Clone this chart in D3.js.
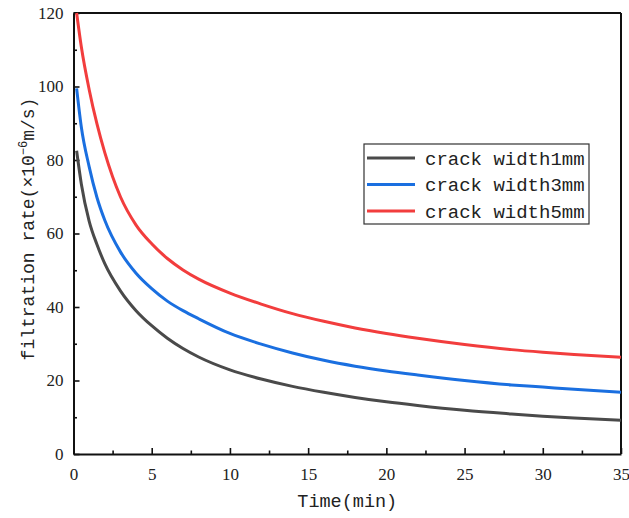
<!DOCTYPE html>
<html>
<head>
<meta charset="utf-8">
<script src="https://cdn.jsdelivr.net/npm/d3@7"></script>
<style>
  body { margin: 0; background: #fff; }
  text { fill: #222; }
</style>
</head>
<body>
<div id="my_dataviz"></div>
<script>
// time points (min)
let times = [0.2, 0.5, 1, 1.5, 2, 3, 4, 5, 6, 7, 8, 10, 12, 14, 16, 18, 20, 22, 25, 28, 30, 32, 35];
// filtration rate (x10^-6 m/s) for each crack width
let width1mm = [82.5, 73.5, 63.4, 57, 51.8, 44.4, 39.0, 34.9, 31.5, 28.7, 26.4, 22.9, 20.4, 18.4, 16.8, 15.4, 14.2, 13.2, 11.9, 10.9, 10.3, 9.8, 9.2];
let width3mm = [99.5, 89, 78.2, 69.8, 63.6, 55, 49.2, 45, 41.6, 39, 36.8, 32.8, 29.9, 27.5, 25.5, 23.9, 22.6, 21.5, 20, 18.8, 18.2, 17.6, 16.8];
let width5mm = [120, 110.8, 99.2, 89.8, 82, 70, 62.3, 57.2, 53.2, 50.1, 47.6, 43.8, 40.8, 38.2, 36.1, 34.3, 32.8, 31.5, 29.8, 28.4, 27.7, 27.1, 26.3];
let seriesNames = ["crack width1mm", "crack width3mm", "crack width5mm"];
let seriesColors = ["#4a4a4a", "#1a6fe0", "#f23d3d"];
let xTicks = [0, 5, 10, 15, 20, 25, 30, 35];
let yTicks = [0, 20, 40, 60, 80, 100, 120];

let margin = {top: 13, right: 8, bottom: 64, left: 73.5},
    width = 629 - margin.left - margin.right,
    height = 518 - margin.top - margin.bottom;

let svg = d3.select("#my_dataviz")
    .append("svg")
    .attr("width", 629)
    .attr("height", 518)
    .append("g")
    .attr("transform", "translate(" + margin.left + "," + margin.top + ")");

let x = d3.scaleLinear().domain([0, 35]).range([0, width]);
let y = d3.scaleLinear().domain([0, 120]).range([height, 0]);

let tickFont = "'Liberation Serif', serif";
let labelFont = "'Liberation Mono', monospace";

// minor ticks
let xMinor = d3.range(2.5, 35, 5);
let yMinor = d3.range(10, 120, 20);

svg.append("g")
    .attr("transform", "translate(0," + height + ")")
    .call(d3.axisBottom(x).tickValues(xTicks).tickSizeInner(-6).tickSizeOuter(0).tickPadding(14));
svg.append("g")
    .attr("transform", "translate(0," + height + ")")
    .call(d3.axisBottom(x).tickValues(xMinor).tickSizeInner(-3.5).tickSizeOuter(0).tickFormat(""))
    .select(".domain").remove();

svg.append("g")
    .call(d3.axisLeft(y).tickValues(yTicks).tickSizeInner(-6).tickSizeOuter(0).tickPadding(10));
svg.append("g")
    .call(d3.axisLeft(y).tickValues(yMinor).tickSizeInner(-3.5).tickSizeOuter(0).tickFormat(""))
    .select(".domain").remove();

svg.selectAll(".domain").attr("stroke", "#111").attr("stroke-width", 2);
svg.selectAll(".tick line").attr("stroke", "#111").attr("stroke-width", 1.6);
svg.selectAll(".tick text")
    .style("font-family", tickFont)
    .style("font-size", "17px")
    .attr("fill", "#333");

// top and right frame
svg.append("line").attr("x1", 0).attr("x2", width).attr("y1", 0).attr("y2", 0)
    .attr("stroke", "#111").attr("stroke-width", 2);
svg.append("line").attr("x1", width).attr("x2", width).attr("y1", 0).attr("y2", height)
    .attr("stroke", "#111").attr("stroke-width", 2);

// curves
let data = [width1mm, width3mm, width5mm].map(function (vals, i) {
    return {
        name: seriesNames[i],
        values: times.map(function (t, j) { return {time: t, value: vals[j]}; })
    };
});

let line = d3.line()
    .curve(d3.curveMonotoneX)
    .x(function (d) { return x(d.time); })
    .y(function (d) { return y(d.value); });

svg.selectAll(".myLines")
    .data(data)
    .enter()
    .append("path")
    .classed("myLines", true)
    .attr("d", function (d) { return line(d.values); })
    .attr("stroke", function (d, i) { return seriesColors[i]; })
    .style("stroke-width", 3)
    .style("fill", "none");

// legend
let legend = svg.append("g").attr("transform", "translate(" + (364 - margin.left) + "," + (144 - margin.top) + ")");
legend.append("rect")
    .attr("width", 225).attr("height", 80)
    .attr("fill", "#fff").attr("stroke", "#333").attr("stroke-width", 1.2);
let items = legend.selectAll(".item")
    .data(seriesNames)
    .enter()
    .append("g")
    .attr("transform", function (d, i) { return "translate(0," + (14 + i * 26.5) + ")"; });
items.append("line")
    .attr("x1", 3).attr("x2", 51).attr("y1", 0).attr("y2", 0)
    .attr("stroke", function (d, i) { return seriesColors[i]; })
    .attr("stroke-width", 3);
items.append("text")
    .attr("x", 61).attr("y", 0).attr("dy", "0.35em")
    .style("font-family", labelFont)
    .style("font-size", "19px")
    .text(function (d) { return d; });

// axis titles
svg.append("text")
    .attr("x", x(17.5)).attr("y", height + 53)
    .attr("text-anchor", "middle")
    .style("font-family", labelFont)
    .style("font-size", "18.5px")
    .text("Time(min)");

let yTitle = svg.append("text")
    .attr("transform", "translate(" + (-40) + "," + (229 - margin.top) + ") rotate(-90)")
    .attr("text-anchor", "middle")
    .style("font-family", labelFont)
    .style("font-size", "18px");
yTitle.append("tspan").text("filtration rate(×10");
yTitle.append("tspan").attr("dy", -7).style("font-size", "12px").text("−6");
yTitle.append("tspan").attr("dy", 7).text("m/s)");
</script>
</body>
</html>
